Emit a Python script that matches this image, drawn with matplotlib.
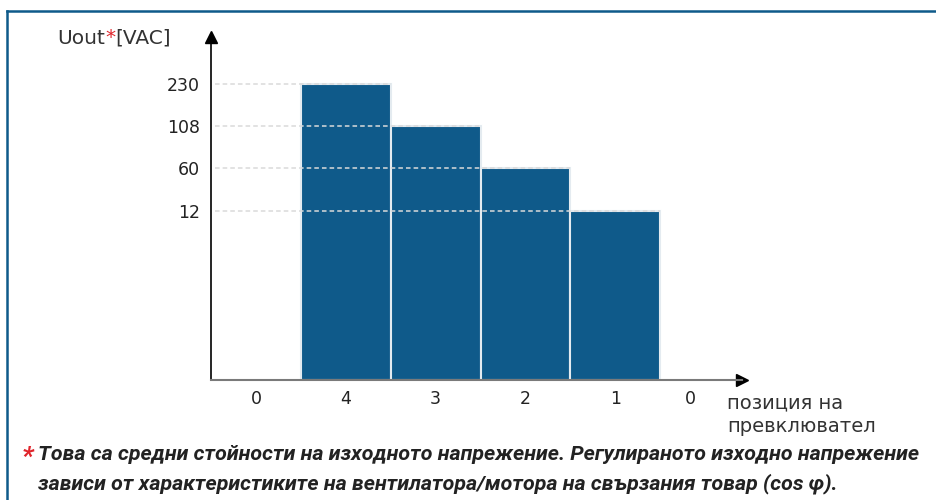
import numpy as np
import matplotlib.pyplot as plt

# switch positions along the x axis, voltages of the bars (positions 4..1)
switch_labels = ['0', '4', '3', '2', '1', '0']
bar_labels = ['4', '3', '2', '1']
voltages = [230, 108, 60, 12]

y_title = 'Uout'
y_unit = '[VAC]'
x_title = 'позиция на\nпревклювател'
note_lines = ['Това са средни стойности на изходното напрежение. Регулираното изходно напрежение',
              'зависи от характеристиките на вентилатора/мотора на свързания товар (cos φ).']

blue = '#0f5a8a'
red = '#e0252b'
text_col = '#222222'

fig = plt.figure(figsize=(9.36, 5), dpi=100)
ax = fig.add_axes([211/936, 120/500, 531/936, 343/500])

# the y axis is not linear: every voltage gets its own step
level_start = 4
ranked = sorted(voltages)
levels = [level_start + ranked.index(v) for v in voltages]
xs = [switch_labels.index(b, 1) for b in bar_labels]

ax.bar(xs, levels, width=1.0, color=blue, edgecolor='#e4ebf0', linewidth=1.5, zorder=2)
for x, lv in zip(xs, levels):
    ax.hlines(lv, -0.46, x + 0.5, colors='#dadada', linestyles=(0, (3, 2)), lw=1.1, zorder=3)

ax.set_xlim(-0.5, 5.41)
ax.set_ylim(0, 8.1)
xt = np.arange(len(switch_labels), dtype=float)
xt[-1] -= 0.17
ax.set_xticks(xt, switch_labels)
ax.set_yticks([level_start + i for i in range(len(ranked))], [str(v) for v in ranked])
ax.tick_params(axis='y', length=0, pad=8, labelsize=12.5, labelcolor=text_col)
ax.tick_params(axis='x', length=0, pad=7, labelsize=12.5, labelcolor=text_col)

for s in ['top', 'right']:
    ax.spines[s].set_visible(False)
ax.spines['left'].set_color('black')
ax.spines['left'].set_linewidth(1.2)
ax.spines['bottom'].set_color('#7a7a7a')
ax.spines['bottom'].set_linewidth(1.5)
ax.plot(0, 1, marker='^', color='black', markersize=9, transform=ax.transAxes, clip_on=False)
ax.plot(1, 0, marker='>', color='black', markersize=9, transform=ax.transAxes, clip_on=False)

# titles
fig.canvas.draw()
r = fig.canvas.get_renderer()
inv = fig.transFigure.inverted()

def put_row(x, y, parts, **kw):
    for txt, col in parts:
        t = fig.text(x, y, txt, color=col, **kw)
        bb = t.get_window_extent(r)
        x = inv.transform((bb.x1, bb.y0))[0]

put_row(57/936, 1 - 38/500, [(y_title, '#333333'), ('*', red), (y_unit, '#333333')],
        fontsize=14.5, va='center', ha='left')

fig.text(727/936, 1 - 393/500, x_title, fontsize=14, color='#333333', va='top', ha='left',
         linespacing=1.3)

note_kw = dict(fontsize=15.4, family='Roboto', weight='bold', style='italic', color=text_col,
               va='center', ha='left')
fig.text(22/936, 1 - 457/500, '*', **dict(note_kw, color=red, fontsize=19))
fig.text(38/936, 1 - 455/500, note_lines[0], **note_kw)
fig.text(38/936, 1 - 484/500, note_lines[1], **note_kw)

# frame of the box
fig.add_artist(plt.Line2D([7/936, 1], [1 - 11/500] * 2, color=blue, lw=1.8, transform=fig.transFigure))
fig.add_artist(plt.Line2D([7/936, 7/936], [0, 1 - 11/500], color=blue, lw=1.8, transform=fig.transFigure))

plt.savefig('out.png', dpi=100)
